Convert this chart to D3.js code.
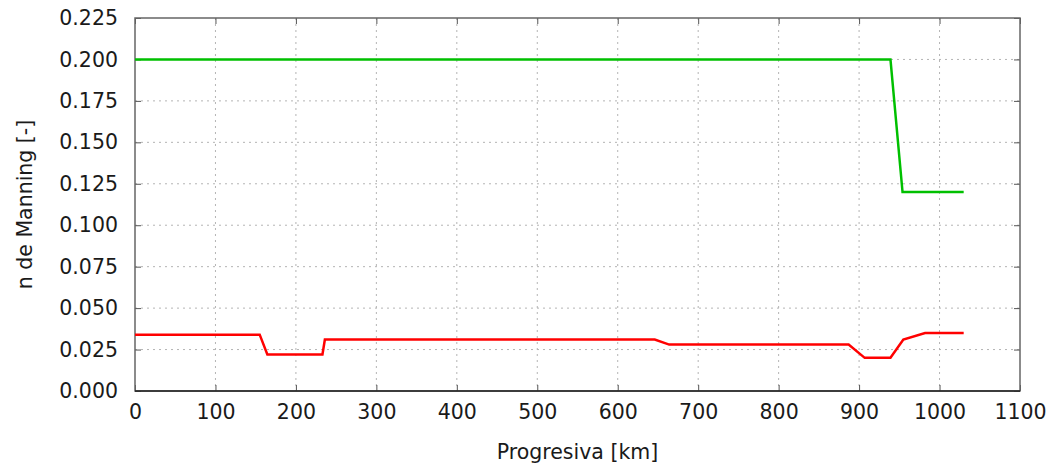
<!DOCTYPE html>
<html><head><meta charset="utf-8">
<script src="https://cdn.jsdelivr.net/npm/d3@7/dist/d3.min.js"></script>
<style>body{margin:0;background:#fff}svg{display:block}text{font-family:"DejaVu Sans",sans-serif}</style>
</head><body><div id="c"></div>
<script>
const xTicks=[0,100,200,300,400,500,600,700,800,900,1000,1100];
const yTicks=[0,0.025,0.05,0.075,0.1,0.125,0.15,0.175,0.2,0.225];
const greenKm=[0,939,954,1030];
const greenN=[0.2,0.2,0.12,0.12];
const redKm=[0,155,164.5,233,236,646,664,887,907,939,955,982,1030];
const redN=[0.034,0.034,0.022,0.022,0.031,0.031,0.028,0.028,0.020,0.020,0.031,0.035,0.035];

const W=1055,H=467,L=135,R=1020,T=18,B=391,FS=20.5;
const svg=d3.select("#c").append("svg").attr("width",W).attr("height",H);
const x=d3.scaleLinear().domain([0,1100]).range([L,R]);
const y=d3.scaleLinear().domain([0,0.225]).range([B,T]);

const g=svg.append("g");
g.selectAll(".gx").data(xTicks.slice(1,-1)).enter().append("line")
 .attr("x1",d=>x(d)).attr("x2",d=>x(d)).attr("y1",T).attr("y2",B)
 .attr("stroke","#b4b4b4").attr("stroke-width",1).attr("stroke-dasharray","2,4");
g.selectAll(".gy").data(yTicks.slice(1,-1)).enter().append("line")
 .attr("x1",L).attr("x2",R).attr("y1",d=>y(d)).attr("y2",d=>y(d))
 .attr("stroke","#b4b4b4").attr("stroke-width",1).attr("stroke-dasharray","2,4");

const xa=svg.append("g").attr("transform",`translate(0,${B})`)
 .call(d3.axisBottom(x).tickValues(xTicks).tickSize(-6).tickPadding(13).tickFormat(d3.format("d")));
const xt=svg.append("g").attr("transform",`translate(0,${T})`)
 .call(d3.axisTop(x).tickValues(xTicks).tickSize(-6).tickFormat(""));
const ya=svg.append("g").attr("transform",`translate(${L},0)`)
 .call(d3.axisLeft(y).tickValues(yTicks).tickSize(-6).tickPadding(17).tickFormat(d3.format(".3f")));
const yr=svg.append("g").attr("transform",`translate(${R},0)`)
 .call(d3.axisRight(y).tickValues(yTicks).tickSize(-6).tickFormat(""));
[xa,xt,ya,yr].forEach(a=>{a.select(".domain").remove();a.selectAll(".tick line").attr("stroke","#555");
 a.selectAll("text").attr("font-size",FS).attr("fill","#1a1a1a").attr("font-family","DejaVu Sans");});
xa.selectAll("text").attr("dy","0.71em");

svg.append("rect").attr("x",L).attr("y",T).attr("width",R-L).attr("height",B-T)
 .attr("fill","none").attr("stroke","#666").attr("stroke-width",1.5);
svg.append("line").attr("x1",L).attr("x2",R).attr("y1",B).attr("y2",B).attr("stroke","#222").attr("stroke-width",1.5);

const line=d3.line().x(d=>x(d[0])).y(d=>y(d[1]));
svg.append("path").datum(greenKm.map((k,i)=>[k,greenN[i]])).attr("d",line)
 .attr("fill","none").attr("stroke","#00c000").attr("stroke-width",2.5);
svg.append("path").datum(redKm.map((k,i)=>[k,redN[i]])).attr("d",line)
 .attr("fill","none").attr("stroke","#ff0000").attr("stroke-width",2.5);

svg.append("text").attr("x",(L+R)/2).attr("y",459).attr("text-anchor","middle")
 .attr("font-size",FS).attr("fill","#1a1a1a").text("Progresiva [km]");
svg.append("text").attr("transform",`translate(32,${(T+B)/2}) rotate(-90)`).attr("text-anchor","middle")
 .attr("font-size",FS).attr("fill","#1a1a1a").text("n de Manning [-]");
</script></body></html>
